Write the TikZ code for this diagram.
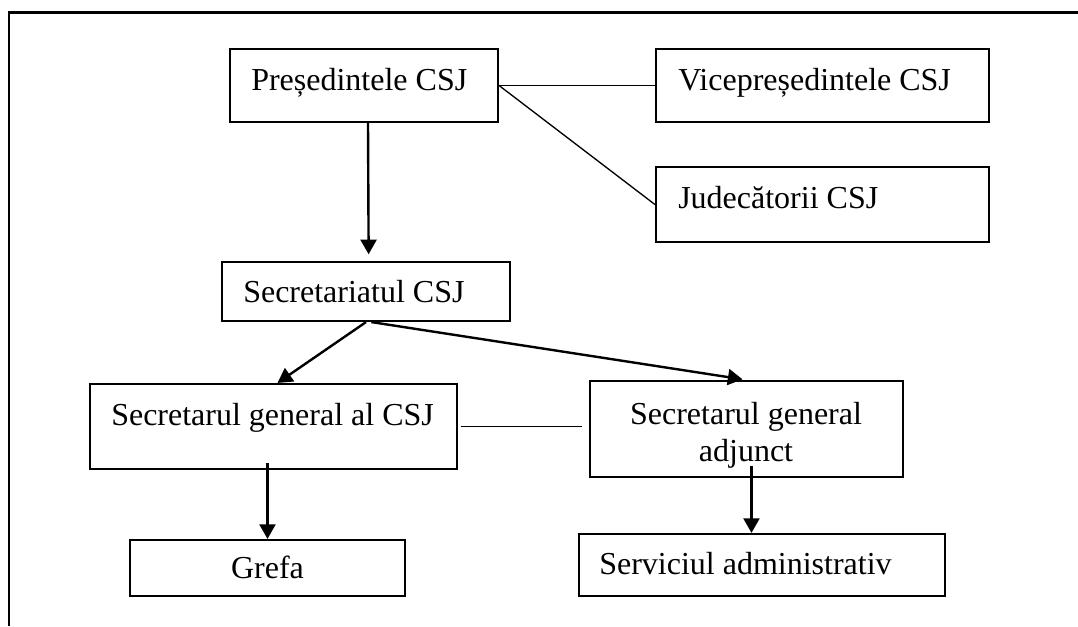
\documentclass[tikz,border=0pt]{standalone}
\usepackage{fontspec}
\setmainfont{Liberation Serif}
\usetikzlibrary{arrows.meta,fit}

\begin{document}
\begin{tikzpicture}[x=0.75pt,y=-0.75pt,
  box/.style={draw,line width=1.6pt,inner sep=0pt},
  txt/.style={inner sep=0pt,font=\fontsize{24}{27.5}\selectfont},
  arr/.style={line width=1.8pt,-{Triangle[length=11pt,width=12pt]}},
  lnk/.style={line width=1pt}]
  \useasboundingbox (0,0) rectangle (1078,626);
  % page frame
  \draw[line width=1.6pt] (9,626) -- (9,12.5) -- (1078,12.5);

  % boxes
  \node[box,fit={(230,49) (498,122)}]  (pres) {};
  \node[box,fit={(656,49) (989,122)}]  (vice) {};
  \node[box,fit={(656,167) (989,242)}] (jud)  {};
  \node[box,fit={(222,262) (510,321)}] (secr) {};
  \node[box,fit={(90,384) (457,469)}]  (sg)   {};
  \node[box,fit={(590,381) (903,477)}] (sga)  {};
  \node[box,fit={(130,540) (405,596)}] (grefa) {};
  \node[box,fit={(579,534) (945,596)}] (serv) {};

  % labels
  \node[txt,anchor=base west] (presT) at (251,90)  {Președintele CSJ};
  \node[txt,anchor=base west] (viceT) at (678,90)  {Vicepreședintele CSJ};
  \node[txt,anchor=base west] (judT)  at (678,208) {Judecătorii CSJ};
  \node[txt,anchor=base west] (secrT) at (243,302) {Secretariatul CSJ};
  \node[txt,anchor=base west] (sgT)   at (111,425) {Secretarul general al CSJ};
  \node[txt,anchor=north,align=center] (sgaT) at (746,402) {Secretarul general\\adjunct};
  \node[txt,anchor=base] (grefaT) at (267.5,578) {Grefa};
  \node[txt,anchor=base west] (servT) at (599,574) {Serviciul administrativ};

  % connectors
  \draw[lnk] (pres.east) -- (vice.west);
  \draw[lnk] (pres.east) -- (jud.west);
  \draw[lnk,shorten <=2pt,shorten >=5pt] (sg.east) -- (sg.east -| sga.west);
  \draw[arr,shorten >=5pt] ([xshift=3pt]pres.south) -- ([xshift=2pt]secr.north);
  \draw[arr] (secr.south) -- ([xshift=3pt]sg.north);
  \draw[arr,shorten >=3pt] ([xshift=4pt]secr.south) -- (sga.north);
  \draw[arr] ([yshift=5pt]grefa.north |- sg.south) -- (grefa.north);
  \draw[arr] ([shift={(5,-12)}]sga.south) coordinate (t) -- (t |- serv.north);
\end{tikzpicture}
\end{document}
